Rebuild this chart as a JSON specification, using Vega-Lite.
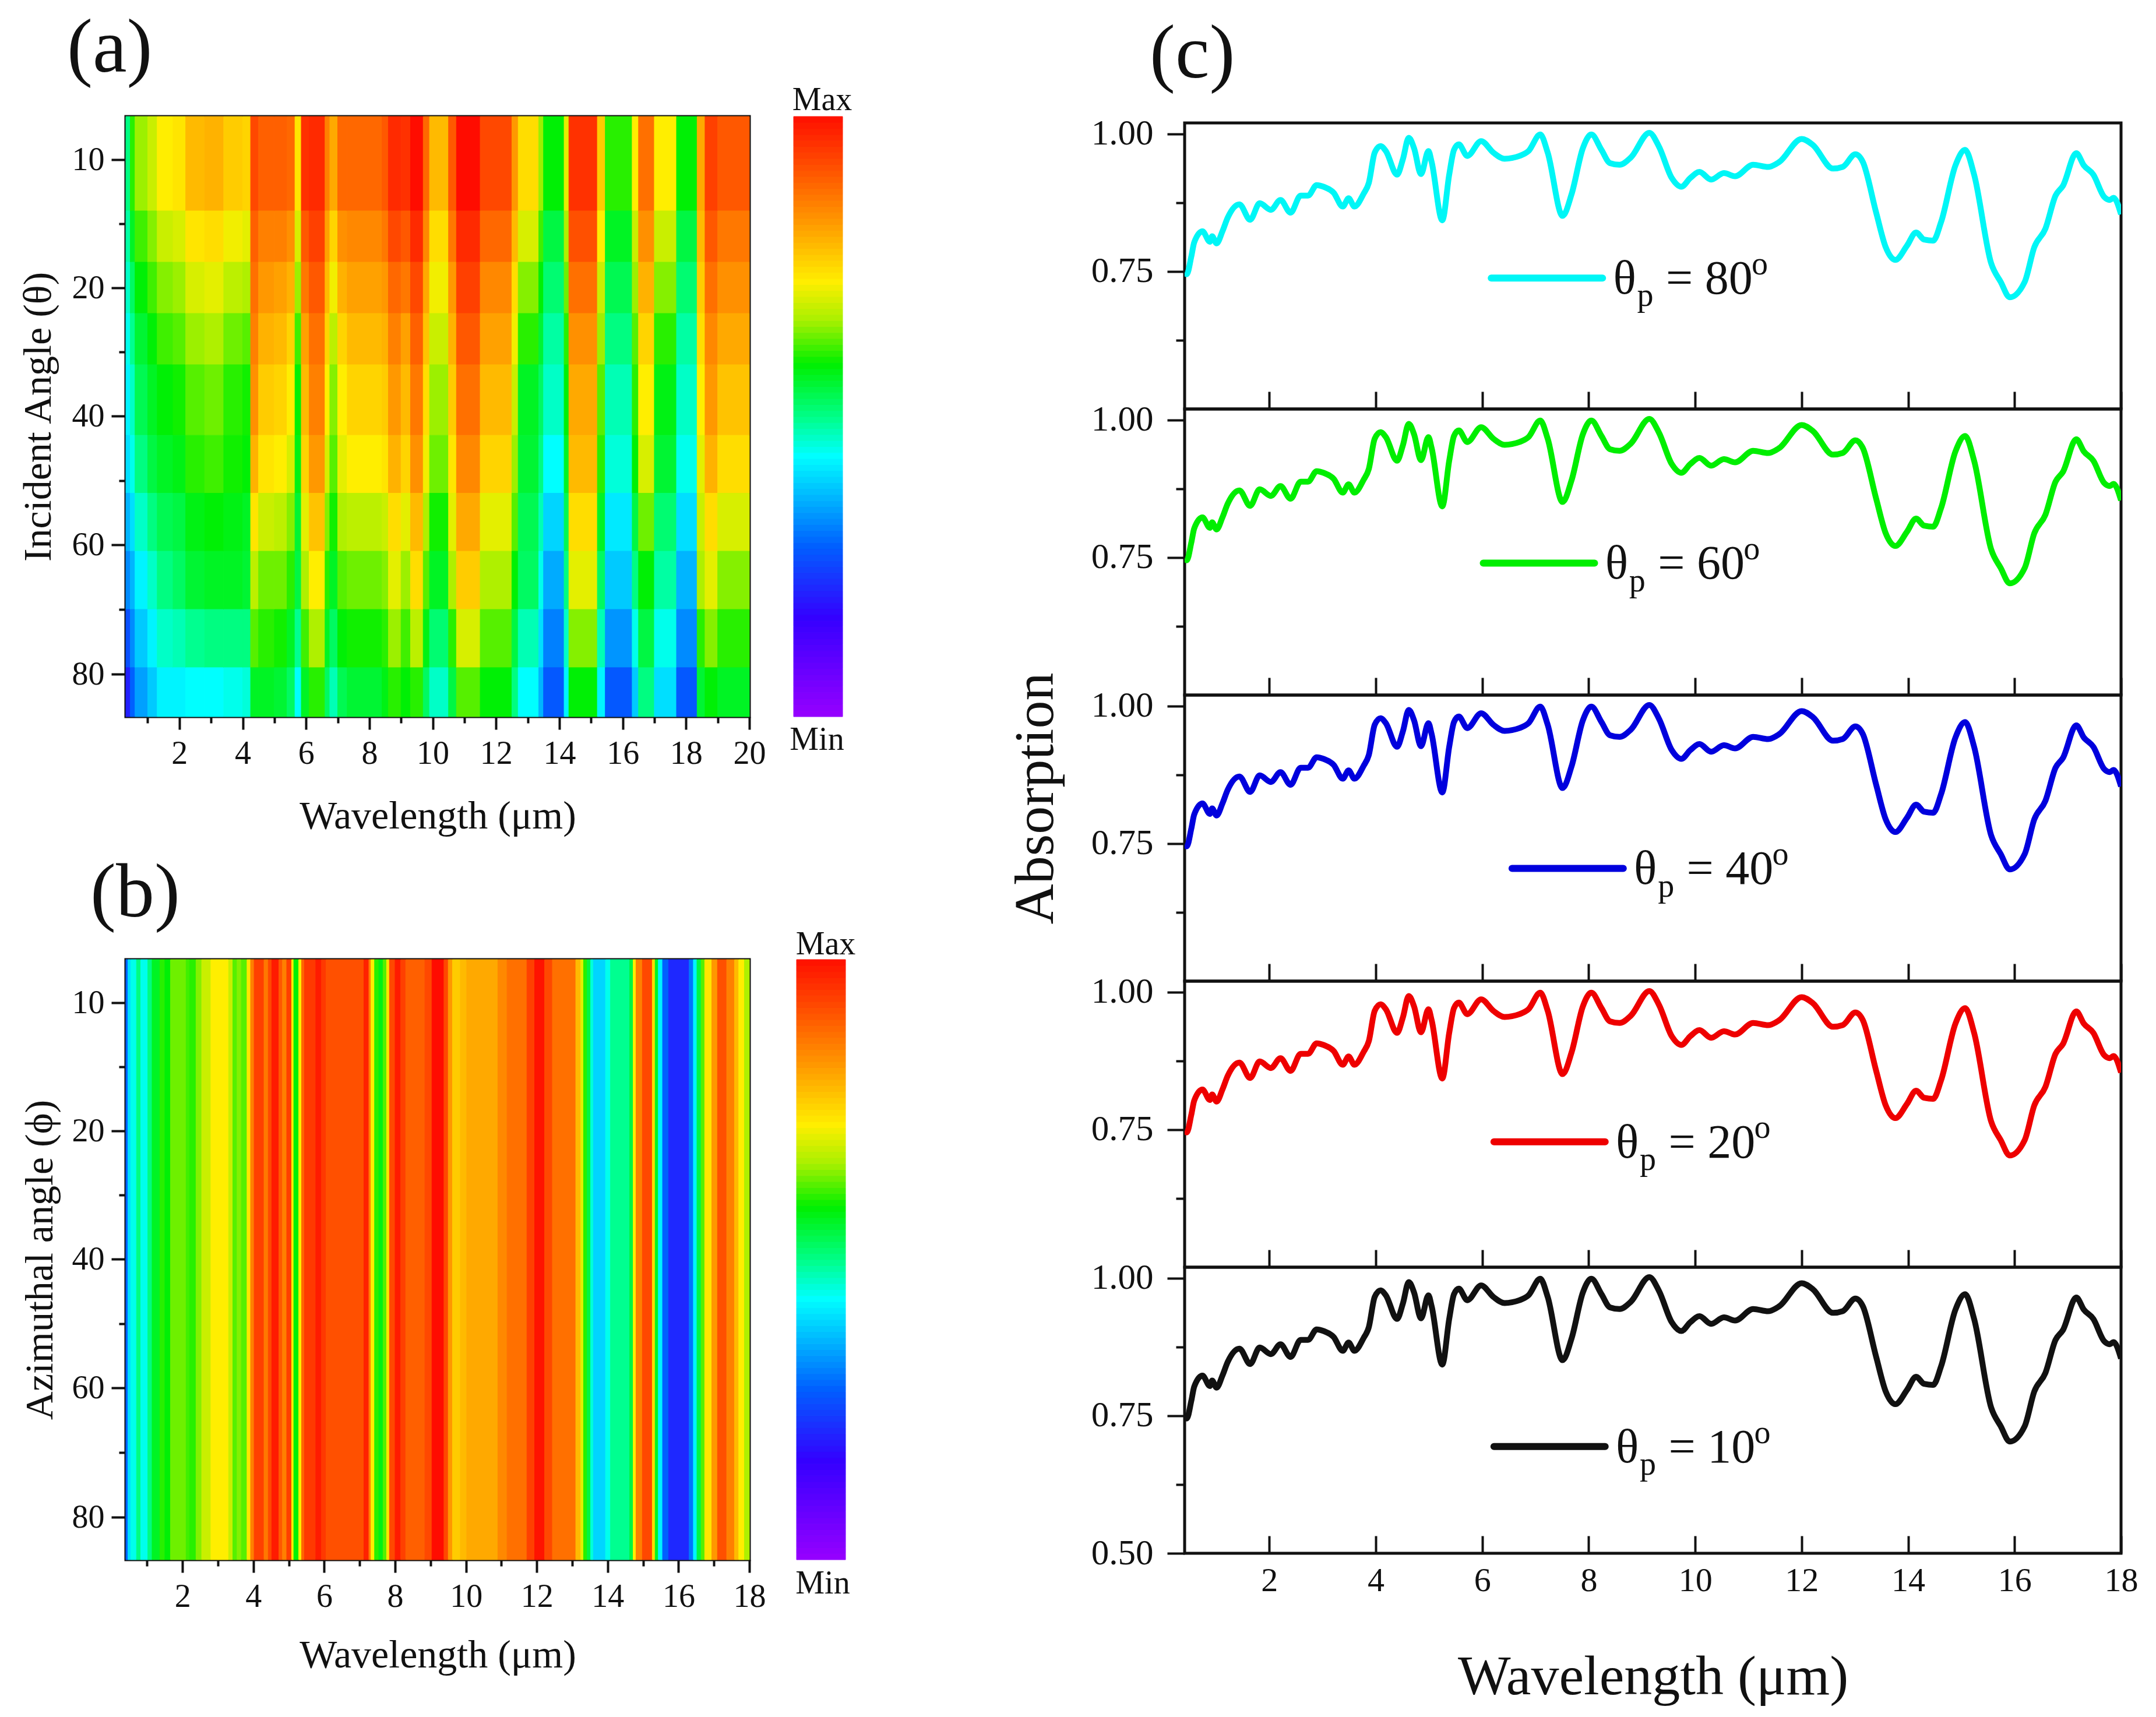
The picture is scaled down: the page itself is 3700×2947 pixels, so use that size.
{"$schema":"https://vega.github.io/schema/vega-lite/v6.json","background":"white","padding":{"left":29,"top":14,"right":0,"bottom":0},"bounds":"flush","spacing":1817,
"config":{"font":"Liberation Serif","axis":{"grid":false,"domain":false,"labelFont":"Liberation Serif","titleFont":"Liberation Serif","labelColor":"#111","titleColor":"#111","tickColor":"#111","tickWidth":4,"titleFontWeight":"normal","titleBaseline":"alphabetic","labelOverlap":false,"labelFlush":false,"labelBound":false},"title":{"font":"Liberation Serif","fontWeight":"normal","color":"#111"},"text":{"font":"Liberation Serif","color":"#111"}},
"datasets":{
"incident":[
{"w":0.31,"x":0.45,"t":5,"u":14,"v":0.5},{"w":0.31,"x":0.45,"t":14,"u":18,"v":0.48},{"w":0.31,"x":0.45,"t":18,"u":24,"v":0.46},{"w":0.31,"x":0.45,"t":24,"u":32,"v":0.44},{"w":0.31,"x":0.45,"t":32,"u":43,"v":0.42},{"w":0.31,"x":0.45,"t":43,"u":52,"v":0.4},{"w":0.31,"x":0.45,"t":52,"u":61,"v":0.36},{"w":0.31,"x":0.45,"t":61,"u":70,"v":0.32},{"w":0.31,"x":0.45,"t":70,"u":79,"v":0.26},{"w":0.31,"x":0.45,"t":79,"u":87,"v":0.2},
{"w":0.45,"x":0.6,"t":5,"u":14,"v":0.6},{"w":0.45,"x":0.6,"t":14,"u":18,"v":0.56},{"w":0.45,"x":0.6,"t":18,"u":24,"v":0.52},{"w":0.45,"x":0.6,"t":24,"u":32,"v":0.49},{"w":0.45,"x":0.6,"t":32,"u":43,"v":0.46},{"w":0.45,"x":0.6,"t":43,"u":52,"v":0.44},{"w":0.45,"x":0.6,"t":52,"u":61,"v":0.4},{"w":0.45,"x":0.6,"t":61,"u":70,"v":0.36},{"w":0.45,"x":0.6,"t":70,"u":79,"v":0.32},{"w":0.45,"x":0.6,"t":79,"u":87,"v":0.28},
{"w":0.6,"x":1,"t":5,"u":14,"v":0.65},{"w":0.6,"x":1,"t":14,"u":18,"v":0.61},{"w":0.6,"x":1,"t":18,"u":24,"v":0.58},{"w":0.6,"x":1,"t":24,"u":32,"v":0.55},{"w":0.6,"x":1,"t":32,"u":43,"v":0.53},{"w":0.6,"x":1,"t":43,"u":52,"v":0.5},{"w":0.6,"x":1,"t":52,"u":61,"v":0.46},{"w":0.6,"x":1,"t":61,"u":70,"v":0.42},{"w":0.6,"x":1,"t":70,"u":79,"v":0.38},{"w":0.6,"x":1,"t":79,"u":87,"v":0.34},
{"w":1,"x":1.3,"t":5,"u":14,"v":0.68},{"w":1,"x":1.3,"t":14,"u":18,"v":0.64},{"w":1,"x":1.3,"t":18,"u":24,"v":0.61},{"w":1,"x":1.3,"t":24,"u":32,"v":0.58},{"w":1,"x":1.3,"t":32,"u":43,"v":0.56},{"w":1,"x":1.3,"t":43,"u":52,"v":0.54},{"w":1,"x":1.3,"t":52,"u":61,"v":0.5},{"w":1,"x":1.3,"t":61,"u":70,"v":0.46},{"w":1,"x":1.3,"t":70,"u":79,"v":0.42},{"w":1,"x":1.3,"t":79,"u":87,"v":0.38},
{"w":1.3,"x":1.8,"t":5,"u":14,"v":0.72},{"w":1.3,"x":1.8,"t":14,"u":18,"v":0.68},{"w":1.3,"x":1.8,"t":18,"u":24,"v":0.64},{"w":1.3,"x":1.8,"t":24,"u":32,"v":0.61},{"w":1.3,"x":1.8,"t":32,"u":43,"v":0.58},{"w":1.3,"x":1.8,"t":43,"u":52,"v":0.56},{"w":1.3,"x":1.8,"t":52,"u":61,"v":0.53},{"w":1.3,"x":1.8,"t":61,"u":70,"v":0.5},{"w":1.3,"x":1.8,"t":70,"u":79,"v":0.46},{"w":1.3,"x":1.8,"t":79,"u":87,"v":0.42},
{"w":1.8,"x":2.2,"t":5,"u":14,"v":0.73},{"w":1.8,"x":2.2,"t":14,"u":18,"v":0.69},{"w":1.8,"x":2.2,"t":18,"u":24,"v":0.65},{"w":1.8,"x":2.2,"t":24,"u":32,"v":0.62},{"w":1.8,"x":2.2,"t":32,"u":43,"v":0.59},{"w":1.8,"x":2.2,"t":43,"u":52,"v":0.57},{"w":1.8,"x":2.2,"t":52,"u":61,"v":0.54},{"w":1.8,"x":2.2,"t":61,"u":70,"v":0.52},{"w":1.8,"x":2.2,"t":70,"u":79,"v":0.47},{"w":1.8,"x":2.2,"t":79,"u":87,"v":0.42},
{"w":2.2,"x":2.8,"t":5,"u":14,"v":0.78},{"w":2.2,"x":2.8,"t":14,"u":18,"v":0.73},{"w":2.2,"x":2.8,"t":18,"u":24,"v":0.69},{"w":2.2,"x":2.8,"t":24,"u":32,"v":0.65},{"w":2.2,"x":2.8,"t":32,"u":43,"v":0.62},{"w":2.2,"x":2.8,"t":43,"u":52,"v":0.6},{"w":2.2,"x":2.8,"t":52,"u":61,"v":0.57},{"w":2.2,"x":2.8,"t":61,"u":70,"v":0.55},{"w":2.2,"x":2.8,"t":70,"u":79,"v":0.49},{"w":2.2,"x":2.8,"t":79,"u":87,"v":0.43},
{"w":2.8,"x":3.4,"t":5,"u":14,"v":0.79},{"w":2.8,"x":3.4,"t":14,"u":18,"v":0.74},{"w":2.8,"x":3.4,"t":18,"u":24,"v":0.7},{"w":2.8,"x":3.4,"t":24,"u":32,"v":0.66},{"w":2.8,"x":3.4,"t":32,"u":43,"v":0.63},{"w":2.8,"x":3.4,"t":43,"u":52,"v":0.61},{"w":2.8,"x":3.4,"t":52,"u":61,"v":0.58},{"w":2.8,"x":3.4,"t":61,"u":70,"v":0.56},{"w":2.8,"x":3.4,"t":70,"u":79,"v":0.5},{"w":2.8,"x":3.4,"t":79,"u":87,"v":0.43},
{"w":3.4,"x":4,"t":5,"u":14,"v":0.76},{"w":3.4,"x":4,"t":14,"u":18,"v":0.71},{"w":3.4,"x":4,"t":18,"u":24,"v":0.67},{"w":3.4,"x":4,"t":24,"u":32,"v":0.63},{"w":3.4,"x":4,"t":32,"u":43,"v":0.6},{"w":3.4,"x":4,"t":43,"u":52,"v":0.59},{"w":3.4,"x":4,"t":52,"u":61,"v":0.57},{"w":3.4,"x":4,"t":61,"u":70,"v":0.56},{"w":3.4,"x":4,"t":70,"u":79,"v":0.5},{"w":3.4,"x":4,"t":79,"u":87,"v":0.44},
{"w":4,"x":4.25,"t":5,"u":14,"v":0.75},{"w":4,"x":4.25,"t":14,"u":18,"v":0.7},{"w":4,"x":4.25,"t":18,"u":24,"v":0.66},{"w":4,"x":4.25,"t":24,"u":32,"v":0.62},{"w":4,"x":4.25,"t":32,"u":43,"v":0.59},{"w":4,"x":4.25,"t":43,"u":52,"v":0.58},{"w":4,"x":4.25,"t":52,"u":61,"v":0.56},{"w":4,"x":4.25,"t":61,"u":70,"v":0.55},{"w":4,"x":4.25,"t":70,"u":79,"v":0.5},{"w":4,"x":4.25,"t":79,"u":87,"v":0.45},
{"w":4.25,"x":4.5,"t":5,"u":14,"v":0.92},{"w":4.25,"x":4.5,"t":14,"u":18,"v":0.89},{"w":4.25,"x":4.5,"t":18,"u":24,"v":0.87},{"w":4.25,"x":4.5,"t":24,"u":32,"v":0.85},{"w":4.25,"x":4.5,"t":32,"u":43,"v":0.83},{"w":4.25,"x":4.5,"t":43,"u":52,"v":0.79},{"w":4.25,"x":4.5,"t":52,"u":61,"v":0.73},{"w":4.25,"x":4.5,"t":61,"u":70,"v":0.67},{"w":4.25,"x":4.5,"t":70,"u":79,"v":0.62},{"w":4.25,"x":4.5,"t":79,"u":87,"v":0.56},
{"w":4.5,"x":5,"t":5,"u":14,"v":0.89},{"w":4.5,"x":5,"t":14,"u":18,"v":0.85},{"w":4.5,"x":5,"t":18,"u":24,"v":0.82},{"w":4.5,"x":5,"t":24,"u":32,"v":0.79},{"w":4.5,"x":5,"t":32,"u":43,"v":0.76},{"w":4.5,"x":5,"t":43,"u":52,"v":0.73},{"w":4.5,"x":5,"t":52,"u":61,"v":0.68},{"w":4.5,"x":5,"t":61,"u":70,"v":0.63},{"w":4.5,"x":5,"t":70,"u":79,"v":0.6},{"w":4.5,"x":5,"t":79,"u":87,"v":0.56},
{"w":5,"x":5.4,"t":5,"u":14,"v":0.89},{"w":5,"x":5.4,"t":14,"u":18,"v":0.85},{"w":5,"x":5.4,"t":18,"u":24,"v":0.81},{"w":5,"x":5.4,"t":24,"u":32,"v":0.78},{"w":5,"x":5.4,"t":32,"u":43,"v":0.75},{"w":5,"x":5.4,"t":43,"u":52,"v":0.72},{"w":5,"x":5.4,"t":52,"u":61,"v":0.67},{"w":5,"x":5.4,"t":61,"u":70,"v":0.63},{"w":5,"x":5.4,"t":70,"u":79,"v":0.59},{"w":5,"x":5.4,"t":79,"u":87,"v":0.55},
{"w":5.4,"x":5.65,"t":5,"u":14,"v":0.88},{"w":5.4,"x":5.65,"t":14,"u":18,"v":0.83},{"w":5.4,"x":5.65,"t":18,"u":24,"v":0.79},{"w":5.4,"x":5.65,"t":24,"u":32,"v":0.75},{"w":5.4,"x":5.65,"t":32,"u":43,"v":0.72},{"w":5.4,"x":5.65,"t":43,"u":52,"v":0.69},{"w":5.4,"x":5.65,"t":52,"u":61,"v":0.64},{"w":5.4,"x":5.65,"t":61,"u":70,"v":0.6},{"w":5.4,"x":5.65,"t":70,"u":79,"v":0.56},{"w":5.4,"x":5.65,"t":79,"u":87,"v":0.52},
{"w":5.65,"x":5.85,"t":5,"u":14,"v":0.73},{"w":5.65,"x":5.85,"t":14,"u":18,"v":0.69},{"w":5.65,"x":5.85,"t":18,"u":24,"v":0.65},{"w":5.65,"x":5.85,"t":24,"u":32,"v":0.61},{"w":5.65,"x":5.85,"t":32,"u":43,"v":0.58},{"w":5.65,"x":5.85,"t":43,"u":52,"v":0.57},{"w":5.65,"x":5.85,"t":52,"u":61,"v":0.55},{"w":5.65,"x":5.85,"t":61,"u":70,"v":0.54},{"w":5.65,"x":5.85,"t":70,"u":79,"v":0.49},{"w":5.65,"x":5.85,"t":79,"u":87,"v":0.43},
{"w":5.85,"x":6.1,"t":5,"u":14,"v":0.95},{"w":5.85,"x":6.1,"t":14,"u":18,"v":0.9},{"w":5.85,"x":6.1,"t":18,"u":24,"v":0.86},{"w":5.85,"x":6.1,"t":24,"u":32,"v":0.81},{"w":5.85,"x":6.1,"t":32,"u":43,"v":0.78},{"w":5.85,"x":6.1,"t":43,"u":52,"v":0.75},{"w":5.85,"x":6.1,"t":52,"u":61,"v":0.7},{"w":5.85,"x":6.1,"t":61,"u":70,"v":0.66},{"w":5.85,"x":6.1,"t":70,"u":79,"v":0.61},{"w":5.85,"x":6.1,"t":79,"u":87,"v":0.56},
{"w":6.1,"x":6.6,"t":5,"u":14,"v":0.96},{"w":6.1,"x":6.6,"t":14,"u":18,"v":0.93},{"w":6.1,"x":6.6,"t":18,"u":24,"v":0.9},{"w":6.1,"x":6.6,"t":24,"u":32,"v":0.87},{"w":6.1,"x":6.6,"t":32,"u":43,"v":0.85},{"w":6.1,"x":6.6,"t":43,"u":52,"v":0.82},{"w":6.1,"x":6.6,"t":52,"u":61,"v":0.77},{"w":6.1,"x":6.6,"t":61,"u":70,"v":0.72},{"w":6.1,"x":6.6,"t":70,"u":79,"v":0.66},{"w":6.1,"x":6.6,"t":79,"u":87,"v":0.6},
{"w":6.6,"x":6.75,"t":5,"u":14,"v":0.85},{"w":6.6,"x":6.75,"t":14,"u":18,"v":0.81},{"w":6.6,"x":6.75,"t":18,"u":24,"v":0.78},{"w":6.6,"x":6.75,"t":24,"u":32,"v":0.75},{"w":6.6,"x":6.75,"t":32,"u":43,"v":0.72},{"w":6.6,"x":6.75,"t":43,"u":52,"v":0.69},{"w":6.6,"x":6.75,"t":52,"u":61,"v":0.64},{"w":6.6,"x":6.75,"t":61,"u":70,"v":0.6},{"w":6.6,"x":6.75,"t":70,"u":79,"v":0.56},{"w":6.6,"x":6.75,"t":79,"u":87,"v":0.52},
{"w":6.75,"x":7,"t":5,"u":14,"v":0.8},{"w":6.75,"x":7,"t":14,"u":18,"v":0.75},{"w":6.75,"x":7,"t":18,"u":24,"v":0.71},{"w":6.75,"x":7,"t":24,"u":32,"v":0.67},{"w":6.75,"x":7,"t":32,"u":43,"v":0.64},{"w":6.75,"x":7,"t":43,"u":52,"v":0.62},{"w":6.75,"x":7,"t":52,"u":61,"v":0.59},{"w":6.75,"x":7,"t":61,"u":70,"v":0.56},{"w":6.75,"x":7,"t":70,"u":79,"v":0.52},{"w":6.75,"x":7,"t":79,"u":87,"v":0.47},
{"w":7,"x":7.3,"t":5,"u":14,"v":0.88},{"w":7,"x":7.3,"t":14,"u":18,"v":0.83},{"w":7,"x":7.3,"t":18,"u":24,"v":0.79},{"w":7,"x":7.3,"t":24,"u":32,"v":0.75},{"w":7,"x":7.3,"t":32,"u":43,"v":0.72},{"w":7,"x":7.3,"t":43,"u":52,"v":0.7},{"w":7,"x":7.3,"t":52,"u":61,"v":0.66},{"w":7,"x":7.3,"t":61,"u":70,"v":0.62},{"w":7,"x":7.3,"t":70,"u":79,"v":0.58},{"w":7,"x":7.3,"t":79,"u":87,"v":0.53},
{"w":7.3,"x":8.4,"t":5,"u":14,"v":0.88},{"w":7.3,"x":8.4,"t":14,"u":18,"v":0.84},{"w":7.3,"x":8.4,"t":18,"u":24,"v":0.81},{"w":7.3,"x":8.4,"t":24,"u":32,"v":0.78},{"w":7.3,"x":8.4,"t":32,"u":43,"v":0.75},{"w":7.3,"x":8.4,"t":43,"u":52,"v":0.72},{"w":7.3,"x":8.4,"t":52,"u":61,"v":0.67},{"w":7.3,"x":8.4,"t":61,"u":70,"v":0.63},{"w":7.3,"x":8.4,"t":70,"u":79,"v":0.59},{"w":7.3,"x":8.4,"t":79,"u":87,"v":0.55},
{"w":8.4,"x":8.6,"t":5,"u":14,"v":0.9},{"w":8.4,"x":8.6,"t":14,"u":18,"v":0.86},{"w":8.4,"x":8.6,"t":18,"u":24,"v":0.82},{"w":8.4,"x":8.6,"t":24,"u":32,"v":0.79},{"w":8.4,"x":8.6,"t":32,"u":43,"v":0.76},{"w":8.4,"x":8.6,"t":43,"u":52,"v":0.73},{"w":8.4,"x":8.6,"t":52,"u":61,"v":0.68},{"w":8.4,"x":8.6,"t":61,"u":70,"v":0.64},{"w":8.4,"x":8.6,"t":70,"u":79,"v":0.6},{"w":8.4,"x":8.6,"t":79,"u":87,"v":0.57},
{"w":8.6,"x":9,"t":5,"u":14,"v":0.96},{"w":8.6,"x":9,"t":14,"u":18,"v":0.92},{"w":8.6,"x":9,"t":18,"u":24,"v":0.88},{"w":8.6,"x":9,"t":24,"u":32,"v":0.85},{"w":8.6,"x":9,"t":32,"u":43,"v":0.82},{"w":8.6,"x":9,"t":43,"u":52,"v":0.79},{"w":8.6,"x":9,"t":52,"u":61,"v":0.74},{"w":8.6,"x":9,"t":61,"u":70,"v":0.7},{"w":8.6,"x":9,"t":70,"u":79,"v":0.65},{"w":8.6,"x":9,"t":79,"u":87,"v":0.6},
{"w":9,"x":9.3,"t":5,"u":14,"v":0.95},{"w":9,"x":9.3,"t":14,"u":18,"v":0.9},{"w":9,"x":9.3,"t":18,"u":24,"v":0.86},{"w":9,"x":9.3,"t":24,"u":32,"v":0.81},{"w":9,"x":9.3,"t":32,"u":43,"v":0.78},{"w":9,"x":9.3,"t":43,"u":52,"v":0.75},{"w":9,"x":9.3,"t":52,"u":61,"v":0.7},{"w":9,"x":9.3,"t":61,"u":70,"v":0.65},{"w":9,"x":9.3,"t":70,"u":79,"v":0.61},{"w":9,"x":9.3,"t":79,"u":87,"v":0.58},
{"w":9.3,"x":9.7,"t":5,"u":14,"v":1},{"w":9.3,"x":9.7,"t":14,"u":18,"v":0.96},{"w":9.3,"x":9.7,"t":18,"u":24,"v":0.92},{"w":9.3,"x":9.7,"t":24,"u":32,"v":0.89},{"w":9.3,"x":9.7,"t":32,"u":43,"v":0.86},{"w":9.3,"x":9.7,"t":43,"u":52,"v":0.83},{"w":9.3,"x":9.7,"t":52,"u":61,"v":0.78},{"w":9.3,"x":9.7,"t":61,"u":70,"v":0.74},{"w":9.3,"x":9.7,"t":70,"u":79,"v":0.67},{"w":9.3,"x":9.7,"t":79,"u":87,"v":0.6},
{"w":9.7,"x":9.9,"t":5,"u":14,"v":0.88},{"w":9.7,"x":9.9,"t":14,"u":18,"v":0.84},{"w":9.7,"x":9.9,"t":18,"u":24,"v":0.8},{"w":9.7,"x":9.9,"t":24,"u":32,"v":0.77},{"w":9.7,"x":9.9,"t":32,"u":43,"v":0.74},{"w":9.7,"x":9.9,"t":43,"u":52,"v":0.71},{"w":9.7,"x":9.9,"t":52,"u":61,"v":0.66},{"w":9.7,"x":9.9,"t":61,"u":70,"v":0.62},{"w":9.7,"x":9.9,"t":70,"u":79,"v":0.57},{"w":9.7,"x":9.9,"t":79,"u":87,"v":0.52},
{"w":9.9,"x":10.5,"t":5,"u":14,"v":0.78},{"w":9.9,"x":10.5,"t":14,"u":18,"v":0.74},{"w":9.9,"x":10.5,"t":18,"u":24,"v":0.71},{"w":9.9,"x":10.5,"t":24,"u":32,"v":0.68},{"w":9.9,"x":10.5,"t":32,"u":43,"v":0.65},{"w":9.9,"x":10.5,"t":43,"u":52,"v":0.63},{"w":9.9,"x":10.5,"t":52,"u":61,"v":0.59},{"w":9.9,"x":10.5,"t":61,"u":70,"v":0.56},{"w":9.9,"x":10.5,"t":70,"u":79,"v":0.51},{"w":9.9,"x":10.5,"t":79,"u":87,"v":0.46},
{"w":10.5,"x":10.75,"t":5,"u":14,"v":0.9},{"w":10.5,"x":10.75,"t":14,"u":18,"v":0.86},{"w":10.5,"x":10.75,"t":18,"u":24,"v":0.82},{"w":10.5,"x":10.75,"t":24,"u":32,"v":0.79},{"w":10.5,"x":10.75,"t":32,"u":43,"v":0.76},{"w":10.5,"x":10.75,"t":43,"u":52,"v":0.73},{"w":10.5,"x":10.75,"t":52,"u":61,"v":0.7},{"w":10.5,"x":10.75,"t":61,"u":70,"v":0.66},{"w":10.5,"x":10.75,"t":70,"u":79,"v":0.6},{"w":10.5,"x":10.75,"t":79,"u":87,"v":0.54},
{"w":10.75,"x":11.5,"t":5,"u":14,"v":1},{"w":10.75,"x":11.5,"t":14,"u":18,"v":0.96},{"w":10.75,"x":11.5,"t":18,"u":24,"v":0.93},{"w":10.75,"x":11.5,"t":24,"u":32,"v":0.9},{"w":10.75,"x":11.5,"t":32,"u":43,"v":0.87},{"w":10.75,"x":11.5,"t":43,"u":52,"v":0.84},{"w":10.75,"x":11.5,"t":52,"u":61,"v":0.8},{"w":10.75,"x":11.5,"t":61,"u":70,"v":0.76},{"w":10.75,"x":11.5,"t":70,"u":79,"v":0.69},{"w":10.75,"x":11.5,"t":79,"u":87,"v":0.62},
{"w":11.5,"x":12.5,"t":5,"u":14,"v":0.92},{"w":11.5,"x":12.5,"t":14,"u":18,"v":0.88},{"w":11.5,"x":12.5,"t":18,"u":24,"v":0.84},{"w":11.5,"x":12.5,"t":24,"u":32,"v":0.81},{"w":11.5,"x":12.5,"t":32,"u":43,"v":0.78},{"w":11.5,"x":12.5,"t":43,"u":52,"v":0.75},{"w":11.5,"x":12.5,"t":52,"u":61,"v":0.7},{"w":11.5,"x":12.5,"t":61,"u":70,"v":0.66},{"w":11.5,"x":12.5,"t":70,"u":79,"v":0.62},{"w":11.5,"x":12.5,"t":79,"u":87,"v":0.58},
{"w":12.5,"x":12.7,"t":5,"u":14,"v":0.82},{"w":12.5,"x":12.7,"t":14,"u":18,"v":0.78},{"w":12.5,"x":12.7,"t":18,"u":24,"v":0.74},{"w":12.5,"x":12.7,"t":24,"u":32,"v":0.71},{"w":12.5,"x":12.7,"t":32,"u":43,"v":0.68},{"w":12.5,"x":12.7,"t":43,"u":52,"v":0.65},{"w":12.5,"x":12.7,"t":52,"u":61,"v":0.62},{"w":12.5,"x":12.7,"t":61,"u":70,"v":0.58},{"w":12.5,"x":12.7,"t":70,"u":79,"v":0.54},{"w":12.5,"x":12.7,"t":79,"u":87,"v":0.5},
{"w":12.7,"x":13.35,"t":5,"u":14,"v":0.74},{"w":12.7,"x":13.35,"t":14,"u":18,"v":0.69},{"w":12.7,"x":13.35,"t":18,"u":24,"v":0.64},{"w":12.7,"x":13.35,"t":24,"u":32,"v":0.6},{"w":12.7,"x":13.35,"t":32,"u":43,"v":0.56},{"w":12.7,"x":13.35,"t":43,"u":52,"v":0.55},{"w":12.7,"x":13.35,"t":52,"u":61,"v":0.53},{"w":12.7,"x":13.35,"t":61,"u":70,"v":0.52},{"w":12.7,"x":13.35,"t":70,"u":79,"v":0.47},{"w":12.7,"x":13.35,"t":79,"u":87,"v":0.43},
{"w":13.35,"x":13.5,"t":5,"u":14,"v":0.65},{"w":13.35,"x":13.5,"t":14,"u":18,"v":0.61},{"w":13.35,"x":13.5,"t":18,"u":24,"v":0.58},{"w":13.35,"x":13.5,"t":24,"u":32,"v":0.55},{"w":13.35,"x":13.5,"t":32,"u":43,"v":0.52},{"w":13.35,"x":13.5,"t":43,"u":52,"v":0.5},{"w":13.35,"x":13.5,"t":52,"u":61,"v":0.47},{"w":13.35,"x":13.5,"t":61,"u":70,"v":0.44},{"w":13.35,"x":13.5,"t":70,"u":79,"v":0.4},{"w":13.35,"x":13.5,"t":79,"u":87,"v":0.36},
{"w":13.5,"x":14.15,"t":5,"u":14,"v":0.58},{"w":13.5,"x":14.15,"t":14,"u":18,"v":0.54},{"w":13.5,"x":14.15,"t":18,"u":24,"v":0.51},{"w":13.5,"x":14.15,"t":24,"u":32,"v":0.48},{"w":13.5,"x":14.15,"t":32,"u":43,"v":0.46},{"w":13.5,"x":14.15,"t":43,"u":52,"v":0.43},{"w":13.5,"x":14.15,"t":52,"u":61,"v":0.39},{"w":13.5,"x":14.15,"t":61,"u":70,"v":0.35},{"w":13.5,"x":14.15,"t":70,"u":79,"v":0.31},{"w":13.5,"x":14.15,"t":79,"u":87,"v":0.27},
{"w":14.15,"x":14.3,"t":5,"u":14,"v":0.7},{"w":14.15,"x":14.3,"t":14,"u":18,"v":0.66},{"w":14.15,"x":14.3,"t":18,"u":24,"v":0.63},{"w":14.15,"x":14.3,"t":24,"u":32,"v":0.6},{"w":14.15,"x":14.3,"t":32,"u":43,"v":0.58},{"w":14.15,"x":14.3,"t":43,"u":52,"v":0.56},{"w":14.15,"x":14.3,"t":52,"u":61,"v":0.53},{"w":14.15,"x":14.3,"t":61,"u":70,"v":0.5},{"w":14.15,"x":14.3,"t":70,"u":79,"v":0.46},{"w":14.15,"x":14.3,"t":79,"u":87,"v":0.42},
{"w":14.3,"x":15.2,"t":5,"u":14,"v":0.95},{"w":14.3,"x":15.2,"t":14,"u":18,"v":0.91},{"w":14.3,"x":15.2,"t":18,"u":24,"v":0.87},{"w":14.3,"x":15.2,"t":24,"u":32,"v":0.83},{"w":14.3,"x":15.2,"t":32,"u":43,"v":0.8},{"w":14.3,"x":15.2,"t":43,"u":52,"v":0.78},{"w":14.3,"x":15.2,"t":52,"u":61,"v":0.74},{"w":14.3,"x":15.2,"t":61,"u":70,"v":0.7},{"w":14.3,"x":15.2,"t":70,"u":79,"v":0.64},{"w":14.3,"x":15.2,"t":79,"u":87,"v":0.58},
{"w":15.2,"x":15.45,"t":5,"u":14,"v":0.76},{"w":15.2,"x":15.45,"t":14,"u":18,"v":0.72},{"w":15.2,"x":15.45,"t":18,"u":24,"v":0.68},{"w":15.2,"x":15.45,"t":24,"u":32,"v":0.65},{"w":15.2,"x":15.45,"t":32,"u":43,"v":0.62},{"w":15.2,"x":15.45,"t":43,"u":52,"v":0.6},{"w":15.2,"x":15.45,"t":52,"u":61,"v":0.56},{"w":15.2,"x":15.45,"t":61,"u":70,"v":0.52},{"w":15.2,"x":15.45,"t":70,"u":79,"v":0.47},{"w":15.2,"x":15.45,"t":79,"u":87,"v":0.42},
{"w":15.45,"x":16.3,"t":5,"u":14,"v":0.6},{"w":15.45,"x":16.3,"t":14,"u":18,"v":0.56},{"w":15.45,"x":16.3,"t":18,"u":24,"v":0.53},{"w":15.45,"x":16.3,"t":24,"u":32,"v":0.5},{"w":15.45,"x":16.3,"t":32,"u":43,"v":0.47},{"w":15.45,"x":16.3,"t":43,"u":52,"v":0.45},{"w":15.45,"x":16.3,"t":52,"u":61,"v":0.41},{"w":15.45,"x":16.3,"t":61,"u":70,"v":0.38},{"w":15.45,"x":16.3,"t":70,"u":79,"v":0.33},{"w":15.45,"x":16.3,"t":79,"u":87,"v":0.27},
{"w":16.3,"x":16.5,"t":5,"u":14,"v":0.72},{"w":16.3,"x":16.5,"t":14,"u":18,"v":0.68},{"w":16.3,"x":16.5,"t":18,"u":24,"v":0.65},{"w":16.3,"x":16.5,"t":24,"u":32,"v":0.62},{"w":16.3,"x":16.5,"t":32,"u":43,"v":0.6},{"w":16.3,"x":16.5,"t":43,"u":52,"v":0.58},{"w":16.3,"x":16.5,"t":52,"u":61,"v":0.54},{"w":16.3,"x":16.5,"t":61,"u":70,"v":0.5},{"w":16.3,"x":16.5,"t":70,"u":79,"v":0.44},{"w":16.3,"x":16.5,"t":79,"u":87,"v":0.38},
{"w":16.5,"x":17,"t":5,"u":14,"v":0.87},{"w":16.5,"x":17,"t":14,"u":18,"v":0.83},{"w":16.5,"x":17,"t":18,"u":24,"v":0.79},{"w":16.5,"x":17,"t":24,"u":32,"v":0.75},{"w":16.5,"x":17,"t":32,"u":43,"v":0.72},{"w":16.5,"x":17,"t":43,"u":52,"v":0.69},{"w":16.5,"x":17,"t":52,"u":61,"v":0.63},{"w":16.5,"x":17,"t":61,"u":70,"v":0.58},{"w":16.5,"x":17,"t":70,"u":79,"v":0.54},{"w":16.5,"x":17,"t":79,"u":87,"v":0.5},
{"w":17,"x":17.7,"t":5,"u":14,"v":0.72},{"w":17,"x":17.7,"t":14,"u":18,"v":0.68},{"w":17,"x":17.7,"t":18,"u":24,"v":0.64},{"w":17,"x":17.7,"t":24,"u":32,"v":0.6},{"w":17,"x":17.7,"t":32,"u":43,"v":0.57},{"w":17,"x":17.7,"t":43,"u":52,"v":0.55},{"w":17,"x":17.7,"t":52,"u":61,"v":0.51},{"w":17,"x":17.7,"t":61,"u":70,"v":0.48},{"w":17,"x":17.7,"t":70,"u":79,"v":0.44},{"w":17,"x":17.7,"t":79,"u":87,"v":0.4},
{"w":17.7,"x":18.35,"t":5,"u":14,"v":0.58},{"w":17.7,"x":18.35,"t":14,"u":18,"v":0.54},{"w":17.7,"x":18.35,"t":18,"u":24,"v":0.51},{"w":17.7,"x":18.35,"t":24,"u":32,"v":0.48},{"w":17.7,"x":18.35,"t":32,"u":43,"v":0.46},{"w":17.7,"x":18.35,"t":43,"u":52,"v":0.44},{"w":17.7,"x":18.35,"t":52,"u":61,"v":0.4},{"w":17.7,"x":18.35,"t":61,"u":70,"v":0.36},{"w":17.7,"x":18.35,"t":70,"u":79,"v":0.32},{"w":17.7,"x":18.35,"t":79,"u":87,"v":0.27},
{"w":18.35,"x":18.6,"t":5,"u":14,"v":0.8},{"w":18.35,"x":18.6,"t":14,"u":18,"v":0.78},{"w":18.35,"x":18.6,"t":18,"u":24,"v":0.76},{"w":18.35,"x":18.6,"t":24,"u":32,"v":0.74},{"w":18.35,"x":18.6,"t":32,"u":43,"v":0.72},{"w":18.35,"x":18.6,"t":43,"u":52,"v":0.7},{"w":18.35,"x":18.6,"t":52,"u":61,"v":0.68},{"w":18.35,"x":18.6,"t":61,"u":70,"v":0.66},{"w":18.35,"x":18.6,"t":70,"u":79,"v":0.6},{"w":18.35,"x":18.6,"t":79,"u":87,"v":0.55},
{"w":18.6,"x":19,"t":5,"u":14,"v":0.93},{"w":18.6,"x":19,"t":14,"u":18,"v":0.9},{"w":18.6,"x":19,"t":18,"u":24,"v":0.87},{"w":18.6,"x":19,"t":24,"u":32,"v":0.84},{"w":18.6,"x":19,"t":32,"u":43,"v":0.82},{"w":18.6,"x":19,"t":43,"u":52,"v":0.79},{"w":18.6,"x":19,"t":52,"u":61,"v":0.74},{"w":18.6,"x":19,"t":61,"u":70,"v":0.7},{"w":18.6,"x":19,"t":70,"u":79,"v":0.64},{"w":18.6,"x":19,"t":79,"u":87,"v":0.58},
{"w":19,"x":20,"t":5,"u":14,"v":0.9},{"w":19,"x":20,"t":14,"u":18,"v":0.86},{"w":19,"x":20,"t":18,"u":24,"v":0.83},{"w":19,"x":20,"t":24,"u":32,"v":0.8},{"w":19,"x":20,"t":32,"u":43,"v":0.77},{"w":19,"x":20,"t":43,"u":52,"v":0.74},{"w":19,"x":20,"t":52,"u":61,"v":0.69},{"w":19,"x":20,"t":61,"u":70,"v":0.64},{"w":19,"x":20,"t":70,"u":79,"v":0.6},{"w":19,"x":20,"t":79,"u":87,"v":0.56}
],
"azimuthal":[
{"w":0.4,"x":0.46,"t":5,"u":87,"v":0.28},{"w":0.46,"x":0.54,"t":5,"u":87,"v":0.4},{"w":0.54,"x":0.7,"t":5,"u":87,"v":0.44},{"w":0.7,"x":0.82,"t":5,"u":87,"v":0.5},{"w":0.82,"x":1.02,"t":5,"u":87,"v":0.44},{"w":1.02,"x":1.14,"t":5,"u":87,"v":0.5},{"w":1.14,"x":1.36,"t":5,"u":87,"v":0.56},{"w":1.36,"x":1.5,"t":5,"u":87,"v":0.6},{"w":1.5,"x":1.66,"t":5,"u":87,"v":0.58},{"w":1.66,"x":2.1,"t":5,"u":87,"v":0.63},{"w":2.1,"x":2.2,"t":5,"u":87,"v":0.61},{"w":2.2,"x":2.38,"t":5,"u":87,"v":0.6},{"w":2.38,"x":2.54,"t":5,"u":87,"v":0.64},{"w":2.54,"x":2.8,"t":5,"u":87,"v":0.68},{"w":2.8,"x":3.3,"t":5,"u":87,"v":0.72},{"w":3.3,"x":3.42,"t":5,"u":87,"v":0.68},{"w":3.42,"x":3.54,"t":5,"u":87,"v":0.62},{"w":3.54,"x":3.66,"t":5,"u":87,"v":0.64},{"w":3.66,"x":3.82,"t":5,"u":87,"v":0.62},{"w":3.82,"x":3.92,"t":5,"u":87,"v":0.73},{"w":3.92,"x":4.02,"t":5,"u":87,"v":0.85},{"w":4.02,"x":4.3,"t":5,"u":87,"v":0.93},{"w":4.3,"x":4.42,"t":5,"u":87,"v":0.86},{"w":4.42,"x":4.52,"t":5,"u":87,"v":0.92},{"w":4.52,"x":4.72,"t":5,"u":87,"v":0.98},{"w":4.72,"x":4.82,"t":5,"u":87,"v":0.9},{"w":4.82,"x":4.94,"t":5,"u":87,"v":0.85},{"w":4.94,"x":5.08,"t":5,"u":87,"v":0.93},{"w":5.08,"x":5.14,"t":5,"u":87,"v":0.72},{"w":5.14,"x":5.28,"t":5,"u":87,"v":0.58},{"w":5.28,"x":5.36,"t":5,"u":87,"v":0.72},{"w":5.36,"x":5.44,"t":5,"u":87,"v":0.88},{"w":5.44,"x":5.76,"t":5,"u":87,"v":0.94},{"w":5.76,"x":5.92,"t":5,"u":87,"v":0.98},{"w":5.92,"x":6.05,"t":5,"u":87,"v":0.94},{"w":6.05,"x":7.12,"t":5,"u":87,"v":0.91},{"w":7.12,"x":7.26,"t":5,"u":87,"v":0.97},{"w":7.26,"x":7.32,"t":5,"u":87,"v":0.85},{"w":7.32,"x":7.42,"t":5,"u":87,"v":0.72},{"w":7.42,"x":7.54,"t":5,"u":87,"v":0.6},{"w":7.54,"x":7.66,"t":5,"u":87,"v":0.57},{"w":7.66,"x":7.76,"t":5,"u":87,"v":0.62},{"w":7.76,"x":7.84,"t":5,"u":87,"v":0.73},{"w":7.84,"x":8,"t":5,"u":87,"v":0.92},{"w":8,"x":8.16,"t":5,"u":87,"v":0.98},{"w":8.16,"x":8.3,"t":5,"u":87,"v":0.93},{"w":8.3,"x":8.84,"t":5,"u":87,"v":0.89},{"w":8.84,"x":9.04,"t":5,"u":87,"v":0.92},{"w":9.04,"x":9.38,"t":5,"u":87,"v":1},{"w":9.38,"x":9.5,"t":5,"u":87,"v":0.92},{"w":9.5,"x":9.62,"t":5,"u":87,"v":0.82},{"w":9.62,"x":9.84,"t":5,"u":87,"v":0.76},{"w":9.84,"x":10.02,"t":5,"u":87,"v":0.78},{"w":10.02,"x":10.9,"t":5,"u":87,"v":0.8},{"w":10.9,"x":11.16,"t":5,"u":87,"v":0.84},{"w":11.16,"x":11.72,"t":5,"u":87,"v":0.87},{"w":11.72,"x":11.94,"t":5,"u":87,"v":0.93},{"w":11.94,"x":12.22,"t":5,"u":87,"v":0.99},{"w":12.22,"x":12.44,"t":5,"u":87,"v":0.92},{"w":12.44,"x":13.1,"t":5,"u":87,"v":0.87},{"w":13.1,"x":13.24,"t":5,"u":87,"v":0.78},{"w":13.24,"x":13.32,"t":5,"u":87,"v":0.7},{"w":13.32,"x":13.42,"t":5,"u":87,"v":0.6},{"w":13.42,"x":13.52,"t":5,"u":87,"v":0.54},{"w":13.52,"x":13.6,"t":5,"u":87,"v":0.45},{"w":13.6,"x":13.94,"t":5,"u":87,"v":0.39},{"w":13.94,"x":14.08,"t":5,"u":87,"v":0.44},{"w":14.08,"x":14.62,"t":5,"u":87,"v":0.49},{"w":14.62,"x":14.72,"t":5,"u":87,"v":0.54},{"w":14.72,"x":14.8,"t":5,"u":87,"v":0.72},{"w":14.8,"x":14.98,"t":5,"u":87,"v":0.85},{"w":14.98,"x":15.26,"t":5,"u":87,"v":0.92},{"w":15.26,"x":15.34,"t":5,"u":87,"v":0.74},{"w":15.34,"x":15.43,"t":5,"u":87,"v":0.56},{"w":15.43,"x":15.55,"t":5,"u":87,"v":0.42},{"w":15.55,"x":15.72,"t":5,"u":87,"v":0.28},{"w":15.72,"x":16.3,"t":5,"u":87,"v":0.21},{"w":16.3,"x":16.42,"t":5,"u":87,"v":0.3},{"w":16.42,"x":16.52,"t":5,"u":87,"v":0.42},{"w":16.52,"x":16.64,"t":5,"u":87,"v":0.54},{"w":16.64,"x":16.74,"t":5,"u":87,"v":0.62},{"w":16.74,"x":16.94,"t":5,"u":87,"v":0.73},{"w":16.94,"x":17.1,"t":5,"u":87,"v":0.82},{"w":17.1,"x":17.36,"t":5,"u":87,"v":0.91},{"w":17.36,"x":17.58,"t":5,"u":87,"v":0.85},{"w":17.58,"x":17.7,"t":5,"u":87,"v":0.78},{"w":17.7,"x":17.86,"t":5,"u":87,"v":0.72},{"w":17.86,"x":18,"t":5,"u":87,"v":0.66}
],
"levels":[{"v":0,"h":0.01},{"v":0.01,"h":0.02},{"v":0.02,"h":0.03},{"v":0.03,"h":0.04},{"v":0.04,"h":0.05},{"v":0.05,"h":0.06},{"v":0.06,"h":0.07},{"v":0.07,"h":0.08},{"v":0.08,"h":0.09},{"v":0.09,"h":0.1},{"v":0.1,"h":0.11},{"v":0.11,"h":0.12},{"v":0.12,"h":0.13},{"v":0.13,"h":0.14},{"v":0.14,"h":0.15},{"v":0.15,"h":0.16},{"v":0.16,"h":0.17},{"v":0.17,"h":0.18},{"v":0.18,"h":0.19},{"v":0.19,"h":0.2},{"v":0.2,"h":0.21},{"v":0.21,"h":0.22},{"v":0.22,"h":0.23},{"v":0.23,"h":0.24},{"v":0.24,"h":0.25},{"v":0.25,"h":0.26},{"v":0.26,"h":0.27},{"v":0.27,"h":0.28},{"v":0.28,"h":0.29},{"v":0.29,"h":0.3},{"v":0.3,"h":0.31},{"v":0.31,"h":0.32},{"v":0.32,"h":0.33},{"v":0.33,"h":0.34},{"v":0.34,"h":0.35},{"v":0.35,"h":0.36},{"v":0.36,"h":0.37},{"v":0.37,"h":0.38},{"v":0.38,"h":0.39},{"v":0.39,"h":0.4},{"v":0.4,"h":0.41},{"v":0.41,"h":0.42},{"v":0.42,"h":0.43},{"v":0.43,"h":0.44},{"v":0.44,"h":0.45},{"v":0.45,"h":0.46},{"v":0.46,"h":0.47},{"v":0.47,"h":0.48},{"v":0.48,"h":0.49},{"v":0.49,"h":0.5},{"v":0.5,"h":0.51},{"v":0.51,"h":0.52},{"v":0.52,"h":0.53},{"v":0.53,"h":0.54},{"v":0.54,"h":0.55},{"v":0.55,"h":0.56},{"v":0.56,"h":0.57},{"v":0.57,"h":0.58},{"v":0.58,"h":0.59},{"v":0.59,"h":0.6},{"v":0.6,"h":0.61},{"v":0.61,"h":0.62},{"v":0.62,"h":0.63},{"v":0.63,"h":0.64},{"v":0.64,"h":0.65},{"v":0.65,"h":0.66},{"v":0.66,"h":0.67},{"v":0.67,"h":0.68},{"v":0.68,"h":0.69},{"v":0.69,"h":0.7},{"v":0.7,"h":0.71},{"v":0.71,"h":0.72},{"v":0.72,"h":0.73},{"v":0.73,"h":0.74},{"v":0.74,"h":0.75},{"v":0.75,"h":0.76},{"v":0.76,"h":0.77},{"v":0.77,"h":0.78},{"v":0.78,"h":0.79},{"v":0.79,"h":0.8},{"v":0.8,"h":0.81},{"v":0.81,"h":0.82},{"v":0.82,"h":0.83},{"v":0.83,"h":0.84},{"v":0.84,"h":0.85},{"v":0.85,"h":0.86},{"v":0.86,"h":0.87},{"v":0.87,"h":0.88},{"v":0.88,"h":0.89},{"v":0.89,"h":0.9},{"v":0.9,"h":0.91},{"v":0.91,"h":0.92},{"v":0.92,"h":0.93},{"v":0.93,"h":0.94},{"v":0.94,"h":0.95},{"v":0.95,"h":0.96},{"v":0.96,"h":0.97},{"v":0.97,"h":0.98},{"v":0.98,"h":0.99},{"v":0.99,"h":1}],
"curve":[{"w":0.41,"a":0.748},{"w":0.45,"a":0.745},{"w":0.535,"a":0.777},{"w":0.59,"a":0.803},{"w":0.745,"a":0.823},{"w":0.884,"a":0.804},{"w":0.926,"a":0.814},{"w":1.01,"a":0.801},{"w":1.12,"a":0.823},{"w":1.22,"a":0.848},{"w":1.44,"a":0.872},{"w":1.64,"a":0.844},{"w":1.82,"a":0.874},{"w":2.03,"a":0.862},{"w":2.21,"a":0.88},{"w":2.4,"a":0.857},{"w":2.59,"a":0.888},{"w":2.73,"a":0.888},{"w":2.89,"a":0.907},{"w":3.02,"a":0.904},{"w":3.21,"a":0.893},{"w":3.38,"a":0.868},{"w":3.49,"a":0.883},{"w":3.6,"a":0.868},{"w":3.77,"a":0.891},{"w":3.87,"a":0.911},{"w":3.98,"a":0.966},{"w":4.09,"a":0.978},{"w":4.19,"a":0.969},{"w":4.4,"a":0.926},{"w":4.51,"a":0.954},{"w":4.62,"a":0.993},{"w":4.72,"a":0.974},{"w":4.85,"a":0.927},{"w":4.99,"a":0.969},{"w":5.05,"a":0.949},{"w":5.25,"a":0.843},{"w":5.38,"a":0.926},{"w":5.47,"a":0.971},{"w":5.56,"a":0.981},{"w":5.72,"a":0.96},{"w":5.98,"a":0.987},{"w":6.21,"a":0.966},{"w":6.42,"a":0.955},{"w":6.7,"a":0.96},{"w":6.87,"a":0.969},{"w":7.09,"a":0.999},{"w":7.23,"a":0.966},{"w":7.51,"a":0.851},{"w":7.68,"a":0.891},{"w":7.89,"a":0.974},{"w":8.05,"a":0.999},{"w":8.24,"a":0.971},{"w":8.4,"a":0.947},{"w":8.58,"a":0.944},{"w":8.79,"a":0.957},{"w":9.14,"a":1.002},{"w":9.32,"a":0.977},{"w":9.56,"a":0.92},{"w":9.74,"a":0.904},{"w":9.91,"a":0.92},{"w":10.08,"a":0.931},{"w":10.3,"a":0.917},{"w":10.54,"a":0.929},{"w":10.75,"a":0.923},{"w":11.09,"a":0.944},{"w":11.37,"a":0.94},{"w":11.58,"a":0.949},{"w":12,"a":0.991},{"w":12.21,"a":0.98},{"w":12.59,"a":0.937},{"w":12.77,"a":0.94},{"w":13.01,"a":0.963},{"w":13.15,"a":0.949},{"w":13.4,"a":0.857},{"w":13.58,"a":0.794},{"w":13.76,"a":0.771},{"w":13.98,"a":0.797},{"w":14.15,"a":0.821},{"w":14.3,"a":0.808},{"w":14.47,"a":0.806},{"w":14.62,"a":0.84},{"w":14.89,"a":0.943},{"w":15.07,"a":0.971},{"w":15.24,"a":0.926},{"w":15.56,"a":0.765},{"w":15.74,"a":0.731},{"w":15.91,"a":0.703},{"w":16.19,"a":0.731},{"w":16.37,"a":0.794},{"w":16.58,"a":0.828},{"w":16.77,"a":0.888},{"w":16.91,"a":0.906},{"w":17.16,"a":0.965},{"w":17.3,"a":0.943},{"w":17.48,"a":0.926},{"w":17.68,"a":0.886},{"w":17.79,"a":0.88},{"w":17.86,"a":0.884},{"w":18,"a":0.854}]
},
"hconcat":[
{"bounds":"flush","spacing":1447,"vconcat":[
{"bounds":"flush","spacing":76,"hconcat":[
{"title":{"text":"(a)","frame":"group","anchor":"start","dx":-101,"offset":-55,"fontSize":132,"baseline":"alphabetic"},"width":1070,"height":1030,"view":{"stroke":"#111","strokeWidth":5},"data":{"name":"incident"},"mark":{"type":"rect","strokeWidth":1},
"encoding":{"x":{"field":"w","type":"quantitative","scale":{"domain":[0.31,20],"nice":false,"zero":false},"axis":{"title":"Wavelength (μm)","titleFontSize":68,"titleY":191,"labelFontSize":56,"labelPadding":14,"values":[1,2,3,4,5,6,7,8,9,10,11,12,13,14,15,16,17,18,19,20],"labelExpr":"datum.value%2==1?'':datum.value","tickSize":{"condition":{"test":"datum.value%2==1","value":11},"value":22}}},"x2":{"field":"x"},
"y":{"field":"t","type":"quantitative","scale":{"domain":[5,10,20,40,60,80,87],"range":[0,74,294,514,735,957,1030],"nice":false,"zero":false},"axis":{"title":"Incident Angle (θ)","titleFontSize":68,"titleX":-130,"labelFontSize":56,"labelPadding":12,"values":[10,15,20,30,40,50,60,70,80],"labelExpr":"datum.value==15||datum.value==30||datum.value==50||datum.value==70?'':datum.value","tickSize":{"condition":{"test":"datum.value==15||datum.value==30||datum.value==50||datum.value==70","value":12},"value":25}}},"y2":{"field":"u"},
"color":{"field":"v","type":"quantitative","legend":null,"scale":{"domain":[0,0.16,0.28,0.34,0.43,0.49,0.583,0.655,0.72,0.82,0.925,1],"range":["#9400ff","#3400ff","#0060ff","#00a0ff","#00ffff","#00ff90","#00f000","#a8f000","#ffee00","#ff9800","#ff4400","#ff0c00"],"interpolate":"rgb"}},
"stroke":{"field":"v","type":"quantitative","legend":null,"scale":{"domain":[0,0.16,0.28,0.34,0.43,0.49,0.583,0.655,0.72,0.82,0.925,1],"range":["#9400ff","#3400ff","#0060ff","#00a0ff","#00ffff","#00ff90","#00f000","#a8f000","#ffee00","#ff9800","#ff4400","#ff0c00"],"interpolate":"rgb"}}}},
{"width":84,"height":1030,"view":{"stroke":null},"layer":[
{"data":{"name":"levels"},"mark":{"type":"rect","strokeWidth":1},"encoding":{"y":{"field":"v","type":"quantitative","axis":null,"scale":{"domain":[0,1],"nice":false,"zero":false}},"y2":{"field":"h"},
"color":{"field":"v","type":"quantitative","legend":null,"scale":{"domain":[0,0.16,0.28,0.34,0.43,0.49,0.583,0.655,0.72,0.82,0.925,1],"range":["#9400ff","#3400ff","#0060ff","#00a0ff","#00ffff","#00ff90","#00f000","#a8f000","#ffee00","#ff9800","#ff4400","#ff0c00"],"interpolate":"rgb"}},
"stroke":{"field":"v","type":"quantitative","legend":null,"scale":{"domain":[0,0.16,0.28,0.34,0.43,0.49,0.583,0.655,0.72,0.82,0.925,1],"range":["#9400ff","#3400ff","#0060ff","#00a0ff","#00ffff","#00ff90","#00f000","#a8f000","#ffee00","#ff9800","#ff4400","#ff0c00"],"interpolate":"rgb"}}}},
{"data":{"values":[{"v":1,"s":"Max"}]},"mark":{"type":"text","fontSize":56,"baseline":"alphabetic","dx":7,"dy":-11},"encoding":{"y":{"field":"v","type":"quantitative"},"text":{"field":"s"}}},
{"data":{"values":[{"v":0,"s":"Min"}]},"mark":{"type":"text","fontSize":56,"baseline":"alphabetic","dx":-2,"dy":57},"encoding":{"y":{"field":"v","type":"quantitative"},"text":{"field":"s"}}}
]}
]},
{"bounds":"flush","spacing":81,"hconcat":[
{"title":{"text":"(b)","frame":"group","anchor":"start","dx":-61,"offset":-58,"fontSize":132,"baseline":"alphabetic"},"width":1070,"height":1030,"view":{"stroke":"#111","strokeWidth":5},"data":{"name":"azimuthal"},"mark":{"type":"rect","strokeWidth":1},
"encoding":{"x":{"field":"w","type":"quantitative","scale":{"domain":[0.4,18],"nice":false,"zero":false},"axis":{"title":"Wavelength (μm)","titleFontSize":68,"titleY":184,"labelFontSize":56,"labelPadding":14,"values":[1,2,3,4,5,6,7,8,9,10,11,12,13,14,15,16,17,18],"labelExpr":"datum.value%2==1?'':datum.value","tickSize":{"condition":{"test":"datum.value%2==1","value":11},"value":22}}},"x2":{"field":"x"},
"y":{"field":"t","type":"quantitative","scale":{"domain":[5,10,20,40,60,80,87],"range":[0,74,294,514,735,957,1030],"nice":false,"zero":false},"axis":{"title":"Azimuthal angle (ϕ)","titleFontSize":68,"titleX":-127,"labelFontSize":56,"labelPadding":12,"values":[10,15,20,30,40,50,60,70,80],"labelExpr":"datum.value==15||datum.value==30||datum.value==50||datum.value==70?'':datum.value","tickSize":{"condition":{"test":"datum.value==15||datum.value==30||datum.value==50||datum.value==70","value":12},"value":25}}},"y2":{"field":"u"},
"color":{"field":"v","type":"quantitative","legend":null,"scale":{"domain":[0,0.16,0.28,0.34,0.43,0.49,0.583,0.655,0.72,0.82,0.925,1],"range":["#9400ff","#3400ff","#0060ff","#00a0ff","#00ffff","#00ff90","#00f000","#a8f000","#ffee00","#ff9800","#ff4400","#ff0c00"],"interpolate":"rgb"}},
"stroke":{"field":"v","type":"quantitative","legend":null,"scale":{"domain":[0,0.16,0.28,0.34,0.43,0.49,0.583,0.655,0.72,0.82,0.925,1],"range":["#9400ff","#3400ff","#0060ff","#00a0ff","#00ffff","#00ff90","#00f000","#a8f000","#ffee00","#ff9800","#ff4400","#ff0c00"],"interpolate":"rgb"}}}},
{"width":84,"height":1030,"view":{"stroke":null},"layer":[
{"data":{"name":"levels"},"mark":{"type":"rect","strokeWidth":1},"encoding":{"y":{"field":"v","type":"quantitative","axis":null,"scale":{"domain":[0,1],"nice":false,"zero":false}},"y2":{"field":"h"},
"color":{"field":"v","type":"quantitative","legend":null,"scale":{"domain":[0,0.16,0.28,0.34,0.43,0.49,0.583,0.655,0.72,0.82,0.925,1],"range":["#9400ff","#3400ff","#0060ff","#00a0ff","#00ffff","#00ff90","#00f000","#a8f000","#ffee00","#ff9800","#ff4400","#ff0c00"],"interpolate":"rgb"}},
"stroke":{"field":"v","type":"quantitative","legend":null,"scale":{"domain":[0,0.16,0.28,0.34,0.43,0.49,0.583,0.655,0.72,0.82,0.925,1],"range":["#9400ff","#3400ff","#0060ff","#00a0ff","#00ffff","#00ff90","#00f000","#a8f000","#ffee00","#ff9800","#ff4400","#ff0c00"],"interpolate":"rgb"}}}},
{"data":{"values":[{"v":1,"s":"Max"}]},"mark":{"type":"text","fontSize":56,"baseline":"alphabetic","dx":8,"dy":-9},"encoding":{"y":{"field":"v","type":"quantitative"},"text":{"field":"s"}}},
{"data":{"values":[{"v":0,"s":"Min"}]},"mark":{"type":"text","fontSize":56,"baseline":"alphabetic","dx":3,"dy":58},"encoding":{"y":{"field":"v","type":"quantitative"},"text":{"field":"s"}}}
]}
]}
]},
{"bounds":"flush","spacing":0,"vconcat":[
{"width":1607,"height":11,"view":{"stroke":null},"data":{"values":[{"w":1}]},"mark":{"type":"point","opacity":0},"encoding":{}},
{"title":{"text":"(c)","frame":"group","anchor":"start","dx":-60,"offset":-66,"fontSize":132,"baseline":"alphabetic"},"width":1607,"height":491,"view":{"stroke":"#111","strokeWidth":5},
"encoding":{"x":{"field":"w","type":"quantitative","scale":{"domain":[0.41,18],"nice":false,"zero":false},"axis":{"title":null,"labels":false,"values":[2,4,6,8,10,12,14,16,18],"tickSize":-30}},"y":{"field":"a","type":"quantitative","scale":{"domain":[0.5,1.02],"nice":false,"zero":false},"axis":{"title":null,"labelFontSize":61,"labelPadding":24,"values":[1,0.875,0.75,0.625],"labelExpr":"datum.value==0.875||datum.value==0.625?'':format(datum.value,'.2f')","tickSize":{"condition":{"test":"datum.value==0.875||datum.value==0.625","value":15},"value":30}}}},
"layer":[
{"data":{"name":"curve"},"mark":{"type":"line","interpolate":"monotone","clip":true,"strokeWidth":10,"color":"#00f6f6"}},
{"data":{"values":[{"w":6.17,"a":0.738},{"w":8.26,"a":0.738}]},"mark":{"type":"line","strokeWidth":12,"strokeCap":"round","color":"#00f6f6"}},
{"data":{"values":[{"w":8.46,"a":0.7096,"s":"θ"},{"w":9.45,"a":0.7096,"s":"= 80"}]},"mark":{"type":"text","align":"left","baseline":"alphabetic","fontSize":82},"encoding":{"text":{"field":"s"}}},
{"data":{"values":[{"w":8.91,"a":0.687,"s":"p"},{"w":11.06,"a":0.7446,"s":"o"}]},"mark":{"type":"text","align":"left","baseline":"alphabetic","fontSize":56},"encoding":{"text":{"field":"s"}}}
]},
{"width":1607,"height":491,"view":{"stroke":"#111","strokeWidth":5},
"encoding":{"x":{"field":"w","type":"quantitative","scale":{"domain":[0.41,18],"nice":false,"zero":false},"axis":{"title":null,"labels":false,"values":[2,4,6,8,10,12,14,16,18],"tickSize":-30}},"y":{"field":"a","type":"quantitative","scale":{"domain":[0.5,1.02],"nice":false,"zero":false},"axis":{"title":null,"labelFontSize":61,"labelPadding":24,"values":[1,0.875,0.75,0.625],"labelExpr":"datum.value==0.875||datum.value==0.625?'':format(datum.value,'.2f')","tickSize":{"condition":{"test":"datum.value==0.875||datum.value==0.625","value":15},"value":30}}}},
"layer":[
{"data":{"name":"curve"},"mark":{"type":"line","interpolate":"monotone","clip":true,"strokeWidth":10,"color":"#00ee00"}},
{"data":{"values":[{"w":6.02,"a":0.74},{"w":8.11,"a":0.74}]},"mark":{"type":"line","strokeWidth":12,"strokeCap":"round","color":"#00ee00"}},
{"data":{"values":[{"w":8.31,"a":0.7116,"s":"θ"},{"w":9.3,"a":0.7116,"s":"= 60"}]},"mark":{"type":"text","align":"left","baseline":"alphabetic","fontSize":82},"encoding":{"text":{"field":"s"}}},
{"data":{"values":[{"w":8.76,"a":0.689,"s":"p"},{"w":10.91,"a":0.7466,"s":"o"}]},"mark":{"type":"text","align":"left","baseline":"alphabetic","fontSize":56},"encoding":{"text":{"field":"s"}}}
]},
{"width":1607,"height":491,"view":{"stroke":"#111","strokeWidth":5},
"encoding":{"x":{"field":"w","type":"quantitative","scale":{"domain":[0.41,18],"nice":false,"zero":false},"axis":{"title":null,"labels":false,"values":[2,4,6,8,10,12,14,16,18],"tickSize":-30}},"y":{"field":"a","type":"quantitative","scale":{"domain":[0.5,1.02],"nice":false,"zero":false},"axis":{"title":"Absorption","titleFontSize":96,"titleX":-227,"titleY":177,"labelFontSize":61,"labelPadding":24,"values":[1,0.875,0.75,0.625],"labelExpr":"datum.value==0.875||datum.value==0.625?'':format(datum.value,'.2f')","tickSize":{"condition":{"test":"datum.value==0.875||datum.value==0.625","value":15},"value":30}}}},
"layer":[
{"data":{"name":"curve"},"mark":{"type":"line","interpolate":"monotone","clip":true,"strokeWidth":10,"color":"#0000dd"}},
{"data":{"values":[{"w":6.56,"a":0.705},{"w":8.65,"a":0.705}]},"mark":{"type":"line","strokeWidth":12,"strokeCap":"round","color":"#0000dd"}},
{"data":{"values":[{"w":8.85,"a":0.6766,"s":"θ"},{"w":9.84,"a":0.6766,"s":"= 40"}]},"mark":{"type":"text","align":"left","baseline":"alphabetic","fontSize":82},"encoding":{"text":{"field":"s"}}},
{"data":{"values":[{"w":9.3,"a":0.654,"s":"p"},{"w":11.45,"a":0.7116,"s":"o"}]},"mark":{"type":"text","align":"left","baseline":"alphabetic","fontSize":56},"encoding":{"text":{"field":"s"}}}
]},
{"width":1607,"height":491,"view":{"stroke":"#111","strokeWidth":5},
"encoding":{"x":{"field":"w","type":"quantitative","scale":{"domain":[0.41,18],"nice":false,"zero":false},"axis":{"title":null,"labels":false,"values":[2,4,6,8,10,12,14,16,18],"tickSize":-30}},"y":{"field":"a","type":"quantitative","scale":{"domain":[0.5,1.02],"nice":false,"zero":false},"axis":{"title":null,"labelFontSize":61,"labelPadding":24,"values":[1,0.875,0.75,0.625],"labelExpr":"datum.value==0.875||datum.value==0.625?'':format(datum.value,'.2f')","tickSize":{"condition":{"test":"datum.value==0.875||datum.value==0.625","value":15},"value":30}}}},
"layer":[
{"data":{"name":"curve"},"mark":{"type":"line","interpolate":"monotone","clip":true,"strokeWidth":10,"color":"#ee0000"}},
{"data":{"values":[{"w":6.22,"a":0.728},{"w":8.31,"a":0.728}]},"mark":{"type":"line","strokeWidth":12,"strokeCap":"round","color":"#ee0000"}},
{"data":{"values":[{"w":8.51,"a":0.6996,"s":"θ"},{"w":9.5,"a":0.6996,"s":"= 20"}]},"mark":{"type":"text","align":"left","baseline":"alphabetic","fontSize":82},"encoding":{"text":{"field":"s"}}},
{"data":{"values":[{"w":8.96,"a":0.677,"s":"p"},{"w":11.11,"a":0.7346,"s":"o"}]},"mark":{"type":"text","align":"left","baseline":"alphabetic","fontSize":56},"encoding":{"text":{"field":"s"}}}
]},
{"width":1607,"height":491,"view":{"stroke":"#111","strokeWidth":5},
"encoding":{"x":{"field":"w","type":"quantitative","scale":{"domain":[0.41,18],"nice":false,"zero":false},"axis":{"title":"Wavelength (μm)","titleFontSize":96,"titleY":241,"labelFontSize":58,"labelPadding":48,"values":[2,4,6,8,10,12,14,16,18],"tickSize":-30}},"y":{"field":"a","type":"quantitative","scale":{"domain":[0.5,1.02],"nice":false,"zero":false},"axis":{"title":null,"labelFontSize":61,"labelPadding":24,"values":[1,0.875,0.75,0.625,0.5],"labelExpr":"datum.value==0.875||datum.value==0.625?'':format(datum.value,'.2f')","tickSize":{"condition":{"test":"datum.value==0.875||datum.value==0.625","value":15},"value":30}}}},
"layer":[
{"data":{"name":"curve"},"mark":{"type":"line","interpolate":"monotone","clip":true,"strokeWidth":10,"color":"#111"}},
{"data":{"values":[{"w":6.22,"a":0.694},{"w":8.31,"a":0.694}]},"mark":{"type":"line","strokeWidth":12,"strokeCap":"round","color":"#111"}},
{"data":{"values":[{"w":8.51,"a":0.6656,"s":"θ"},{"w":9.5,"a":0.6656,"s":"= 10"}]},"mark":{"type":"text","align":"left","baseline":"alphabetic","fontSize":82},"encoding":{"text":{"field":"s"}}},
{"data":{"values":[{"w":8.96,"a":0.643,"s":"p"},{"w":11.11,"a":0.7006,"s":"o"}]},"mark":{"type":"text","align":"left","baseline":"alphabetic","fontSize":56},"encoding":{"text":{"field":"s"}}}
]}
]}
]}
